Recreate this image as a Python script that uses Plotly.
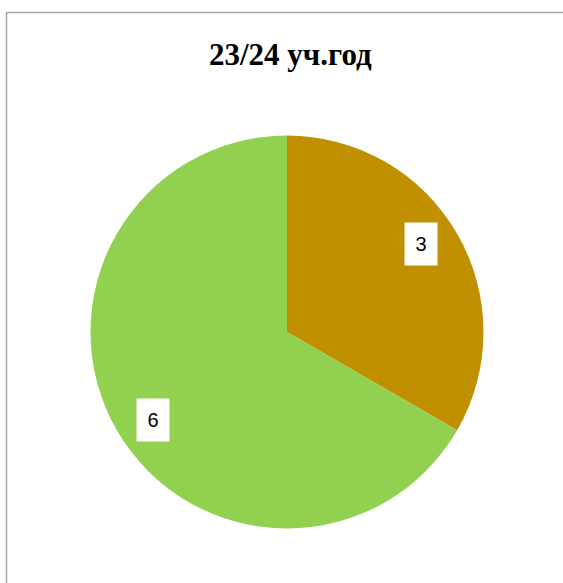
import math
import plotly.graph_objects as go

# данные диаграммы
title = "23/24 уч.год"
categories = ["Категория 1", "Категория 2"]
values = [3, 6]
colors = ["#C09000", "#92D050"]

W, H = 563, 583
cx, cy, R = 287, 332, 196.5

fig = go.Figure(go.Pie(
    labels=categories, values=values,
    marker=dict(colors=colors, line=dict(width=0)),
    sort=False, direction="clockwise", rotation=0,
    textinfo="none", hoverinfo="label+value",
    showlegend=False,
    domain=dict(x=[(cx - R) / W, (cx + R) / W], y=[1 - (cy + R) / H, 1 - (cy - R) / H]),
))

# подписи данных в белых рамках, по середине каждого сектора
total = sum(values)
start = 0
annotations = []
for v in values:
    mid = (start + v / 2) / total * 360 - 3.5
    start += v
    x = cx + 0.815 * R * math.sin(math.radians(mid))
    y = cy - 0.815 * R * math.cos(math.radians(mid))
    annotations.append(dict(
        x=x / W, y=1 - y / H, xref="paper", yref="paper",
        xanchor="center", yanchor="middle",
        text=str(v), showarrow=False, bgcolor="white",
        width=30, height=40, font=dict(family="Liberation Sans", size=20, color="black"),
    ))

annotations.append(dict(
    x=290 / W, y=1 - 54 / H, xref="paper", yref="paper",
    xanchor="center", yanchor="middle",
    text="<b>" + title + "</b>", showarrow=False,
    font=dict(family="Liberation Serif", size=31, color="black"),
))

# рамка области диаграммы: видны только левая и верхняя стороны
border = dict(color="#A6A6A6", width=1.5)
fig.update_layout(
    width=W, height=H,
    margin=dict(l=0, r=0, t=0, b=0),
    paper_bgcolor="white", plot_bgcolor="white",
    annotations=annotations,
    shapes=[
        dict(type="line", xref="paper", yref="paper",
             x0=6.5 / W, x1=6.5 / W, y0=0, y1=1 - 12.5 / H, line=border),
        dict(type="line", xref="paper", yref="paper",
             x0=6.5 / W, x1=1, y0=1 - 12.5 / H, y1=1 - 12.5 / H, line=border),
    ],
)

fig.write_html("out.html", config={"displayModeBar": False},
               post_script="document.body.style.margin='0';"
                           "document.body.style.overflow='hidden';"
                           "document.documentElement.style.overflow='hidden';")
